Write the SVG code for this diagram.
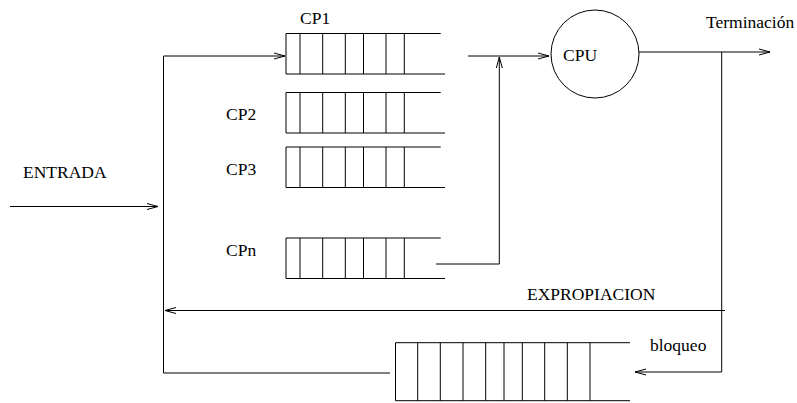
<svg xmlns="http://www.w3.org/2000/svg" width="797" height="403" viewBox="0 0 797 403">
<style>
.l{stroke:#000;stroke-width:1;fill:none}
text{font-family:'Liberation Serif','Times New Roman',Times,serif;font-size:17.5px;fill:#000}
</style>
<defs>
<marker id="a" markerUnits="userSpaceOnUse" markerWidth="14" markerHeight="10" refX="11" refY="4" orient="auto">
<path d="M0,1 L11,4 L0,7" fill="none" stroke="#000" stroke-width="1"/>
</marker>
<g id="q">
<path class="l" d="M286,0 H440.7 M286,40.5 H445 M286,0 V40.5 M300,0 V40.5 M322.7,0 V40.5 M345.3,0 V40.5 M363.5,0 V40.5 M386,0 V40.5 M404.3,0 V40.5"/>
</g>
</defs>
<rect width="797" height="403" fill="#fff"/>
<g id="cp1"><use href="#q" y="33.5"/><text x="300" y="24" font-family="Liberation Serif, serif">CP1</text></g>
<g id="cp2"><use href="#q" y="92.5"/><text x="226" y="120" font-family="Liberation Serif, serif">CP2</text></g>
<g id="cp3"><use href="#q" y="147"/><text x="226" y="175" font-family="Liberation Serif, serif">CP3</text></g>
<g id="cpn"><use href="#q" y="238"/><text x="226" y="256" font-family="Liberation Serif, serif">CPn</text></g>
<g id="cpu"><circle class="l" cx="595" cy="54" r="44"/><text x="563" y="61" font-family="Liberation Serif, serif">CPU</text></g>
<g id="bloqueo">
<path class="l" d="M395.5,342.7 H630 M395.5,400.7 H630 M395.5,342.7 V400.7 M417.7,342.7 V400.7 M440.3,342.7 V400.7 M463,342.7 V400.7 M485.7,342.7 V400.7 M504,342.7 V400.7 M522.3,342.7 V400.7 M544.7,342.7 V400.7 M567.3,342.7 V400.7 M590,342.7 V400.7"/>
<text x="650" y="351" font-family="Liberation Serif, serif">bloqueo</text>
</g>
<g id="labels">
<text x="23" y="178" font-family="Liberation Serif, serif">ENTRADA</text>
<text x="706" y="28" font-family="Liberation Serif, serif">Terminación</text>
<text x="527" y="300" font-family="Liberation Serif, serif">EXPROPIACION</text>
</g>
<g id="connectors">
<path class="l" d="M10,206.5 H158" marker-end="url(#a)"/>
<path class="l" d="M390,373 H163.5 V56 H285" marker-end="url(#a)"/>
<path class="l" d="M436,264 H499.3 V57" marker-end="url(#a)"/>
<path class="l" d="M468,56 H549" marker-end="url(#a)"/>
<path class="l" d="M639,52 H770" marker-end="url(#a)"/>
<path class="l" d="M721.7,52 V372 H635" marker-end="url(#a)"/>
<path class="l" d="M725,310.5 H165" marker-end="url(#a)"/>
</g>
</svg>
